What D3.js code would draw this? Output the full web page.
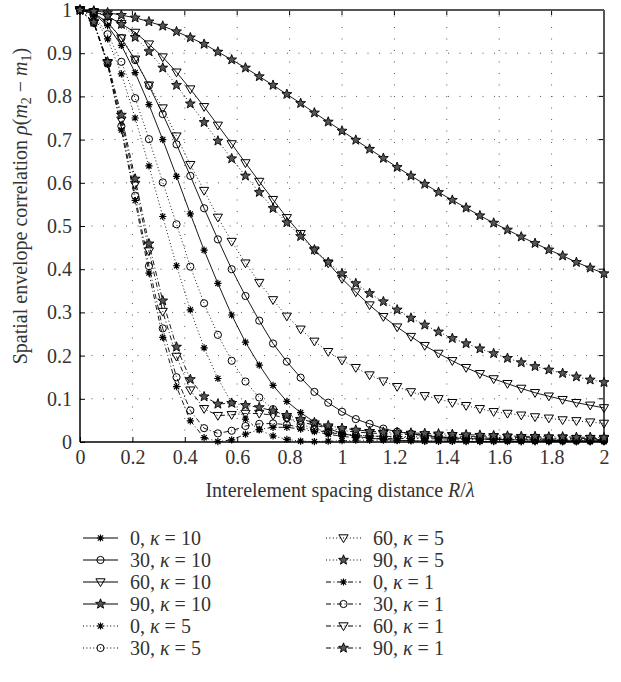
<!DOCTYPE html>
<html><head><meta charset="utf-8">
<script src="https://cdn.jsdelivr.net/npm/d3@7"></script>
<style>
body{margin:0;background:#fff;}
text{font-family:"Liberation Serif","DejaVu Serif",serif;fill:#222;}
</style></head>
<body><svg id="c" width="621" height="682"></svg>
<script>
// sample positions R/lambda
const spacing = [0, 0.0526, 0.1053, 0.1579, 0.2105, 0.2632, 0.3158, 0.3684, 0.4211, 0.4737, 0.5263, 0.5789, 0.6316, 0.6842, 0.7368, 0.7895, 0.8421, 0.8947, 0.9474, 1.0, 1.0526, 1.1053, 1.1579, 1.2105, 1.2632, 1.3158, 1.3684, 1.4211, 1.4737, 1.5263, 1.5789, 1.6316, 1.6842, 1.7368, 1.7895, 1.8421, 1.8947, 1.9474, 2.0];

const xTicks = [0, 0.2, 0.4, 0.6, 0.8, 1, 1.2, 1.4, 1.6, 1.8, 2];
const yTicks = [0, 0.1, 0.2, 0.3, 0.4, 0.5, 0.6, 0.7, 0.8, 0.9, 1];

const s0k10  = [1, 0.991, 0.964, 0.918, 0.855, 0.781, 0.700, 0.615, 0.528, 0.444, 0.367, 0.294, 0.231, 0.178, 0.131, 0.094, 0.068, 0.046, 0.031, 0.020, 0.013, 0.009, 0.006, 0.004, 0.003, 0.002, 0.002, 0.002, 0.001, 0.001, 0.001, 0.001, 0.001, 0.001, 0.001, 0.001, 0.001, 0.001, 0.001];
const s30k10 = [1, 0.993, 0.971, 0.935, 0.884, 0.825, 0.759, 0.689, 0.616, 0.541, 0.469, 0.400, 0.338, 0.281, 0.228, 0.186, 0.149, 0.116, 0.091, 0.070, 0.053, 0.042, 0.031, 0.024, 0.019, 0.015, 0.012, 0.010, 0.008, 0.007, 0.006, 0.005, 0.005, 0.004, 0.004, 0.003, 0.003, 0.003, 0.003];
const s60k10 = [1, 0.996, 0.985, 0.968, 0.948, 0.921, 0.891, 0.856, 0.817, 0.776, 0.733, 0.690, 0.646, 0.603, 0.561, 0.519, 0.482, 0.444, 0.414, 0.378, 0.347, 0.317, 0.290, 0.266, 0.244, 0.223, 0.205, 0.188, 0.172, 0.158, 0.146, 0.135, 0.124, 0.114, 0.106, 0.098, 0.091, 0.085, 0.079];
const s90k10 = [1, 0.998, 0.994, 0.988, 0.982, 0.973, 0.963, 0.950, 0.936, 0.921, 0.903, 0.885, 0.866, 0.846, 0.826, 0.805, 0.784, 0.762, 0.741, 0.720, 0.699, 0.678, 0.657, 0.636, 0.616, 0.597, 0.578, 0.560, 0.542, 0.524, 0.507, 0.491, 0.475, 0.460, 0.445, 0.431, 0.416, 0.403, 0.390];
const s0k5   = [1, 0.984, 0.933, 0.852, 0.750, 0.639, 0.522, 0.408, 0.306, 0.218, 0.147, 0.091, 0.053, 0.028, 0.014, 0.006, 0.002, 0.001, 0.002, 0.003, 0.004, 0.004, 0.004, 0.003, 0.003, 0.002, 0.002, 0.002, 0.002, 0.002, 0.002, 0.002, 0.001, 0.001, 0.001, 0.001, 0.001, 0.001, 0.001];
const s30k5  = [1, 0.987, 0.944, 0.880, 0.796, 0.701, 0.601, 0.504, 0.406, 0.321, 0.248, 0.188, 0.140, 0.103, 0.076, 0.056, 0.041, 0.031, 0.024, 0.019, 0.016, 0.014, 0.012, 0.011, 0.010, 0.009, 0.009, 0.008, 0.008, 0.007, 0.007, 0.006, 0.006, 0.006, 0.005, 0.005, 0.005, 0.005, 0.004];
const s60k5  = [1, 0.993, 0.971, 0.935, 0.886, 0.826, 0.773, 0.708, 0.642, 0.582, 0.520, 0.464, 0.414, 0.369, 0.329, 0.291, 0.261, 0.233, 0.209, 0.189, 0.172, 0.155, 0.141, 0.128, 0.116, 0.107, 0.100, 0.091, 0.084, 0.077, 0.070, 0.066, 0.062, 0.058, 0.055, 0.051, 0.049, 0.046, 0.043];
const s90k5  = [1, 0.997, 0.986, 0.967, 0.937, 0.904, 0.866, 0.826, 0.783, 0.740, 0.697, 0.656, 0.616, 0.578, 0.541, 0.508, 0.476, 0.445, 0.416, 0.390, 0.367, 0.344, 0.325, 0.306, 0.287, 0.271, 0.255, 0.240, 0.228, 0.216, 0.205, 0.194, 0.184, 0.175, 0.167, 0.159, 0.151, 0.144, 0.138];
const s0k1   = [1, 0.970, 0.874, 0.722, 0.559, 0.391, 0.242, 0.128, 0.049, 0.010, 0.001, 0.005, 0.018, 0.029, 0.034, 0.034, 0.030, 0.024, 0.018, 0.013, 0.010, 0.008, 0.008, 0.008, 0.008, 0.008, 0.007, 0.007, 0.006, 0.006, 0.006, 0.005, 0.005, 0.005, 0.004, 0.004, 0.004, 0.004, 0.004];
const s30k1  = [1, 0.970, 0.876, 0.731, 0.570, 0.407, 0.263, 0.150, 0.073, 0.032, 0.020, 0.026, 0.037, 0.042, 0.043, 0.040, 0.034, 0.028, 0.022, 0.018, 0.015, 0.014, 0.013, 0.013, 0.012, 0.012, 0.011, 0.010, 0.010, 0.009, 0.009, 0.008, 0.008, 0.007, 0.007, 0.007, 0.006, 0.006, 0.006];
const s60k1  = [1, 0.971, 0.878, 0.745, 0.596, 0.442, 0.302, 0.198, 0.120, 0.077, 0.061, 0.063, 0.066, 0.066, 0.062, 0.055, 0.047, 0.039, 0.032, 0.027, 0.023, 0.021, 0.019, 0.018, 0.017, 0.016, 0.015, 0.014, 0.013, 0.012, 0.012, 0.011, 0.010, 0.010, 0.009, 0.009, 0.008, 0.008, 0.008];
const s90k1  = [1, 0.972, 0.880, 0.757, 0.609, 0.459, 0.327, 0.220, 0.145, 0.105, 0.088, 0.090, 0.085, 0.080, 0.072, 0.062, 0.053, 0.045, 0.038, 0.032, 0.028, 0.025, 0.023, 0.022, 0.021, 0.020, 0.019, 0.018, 0.017, 0.016, 0.015, 0.014, 0.013, 0.013, 0.012, 0.012, 0.011, 0.011, 0.010];

const angles = ["0", "30", "60", "90"];
const kappas = ["10", "5", "1"];
const markers = ["asterisk", "circle", "triangle", "star"];
const seriesTable = [
  [s0k10, s30k10, s60k10, s90k10],
  [s0k5, s30k5, s60k5, s90k5],
  [s0k1, s30k1, s60k1, s90k1]
];
const dashes = ["none", "1,2.4", "5,2.5,1,2.5"];

const svg = d3.select("#c");
const x = d3.scaleLinear().domain([0, 2]).range([80, 604]);
const y = d3.scaleLinear().domain([0, 1]).range([442, 10]);

// grid
const grid = svg.append("g");
grid.selectAll(".vg").data(xTicks.slice(1, -1)).join("line")
  .attr("x1", d => x(d)).attr("x2", d => x(d)).attr("y1", y(0)).attr("y2", y(1))
  .attr("stroke", "#555").attr("stroke-width", 1).attr("stroke-dasharray", "1,10.5");
grid.selectAll(".hg").data(yTicks.slice(1, -1)).join("line")
  .attr("y1", d => y(d)).attr("y2", d => y(d)).attr("x1", x(0)).attr("x2", x(2))
  .attr("stroke", "#555").attr("stroke-width", 1).attr("stroke-dasharray", "1,10.5");

// axes
const xAxis = d3.axisBottom(x).tickValues(xTicks).tickSize(-5).tickPadding(8).tickFormat(d3.format("~g"));
const yAxis = d3.axisLeft(y).tickValues(yTicks).tickSize(-5).tickPadding(8).tickFormat(d3.format("~g"));
const gx = svg.append("g").attr("transform", `translate(0,${y(0)})`).call(xAxis);
const gy = svg.append("g").attr("transform", `translate(${x(0)},0)`).call(yAxis);
[gx, gy].forEach(g => {
  g.select(".domain").remove();
  g.selectAll("text").style("font-size", "20px").style("fill", "#333");
  g.selectAll("line").attr("stroke", "#000");
});
// top/right ticks
svg.append("g").selectAll("line").data(xTicks).join("line")
  .attr("x1", d => x(d)).attr("x2", d => x(d)).attr("y1", y(1)).attr("y2", y(1) + 5).attr("stroke", "#000");
svg.append("g").selectAll("line").data(yTicks).join("line")
  .attr("y1", d => y(d)).attr("y2", d => y(d)).attr("x1", x(2)).attr("x2", x(2) - 5).attr("stroke", "#000");

// frame
svg.append("line").attr("x1", x(0)).attr("x2", x(2)).attr("y1", y(1)).attr("y2", y(1)).attr("stroke", "#555").attr("stroke-width", 2);
svg.append("line").attr("x1", x(2)).attr("x2", x(2)).attr("y1", y(1)).attr("y2", y(0)).attr("stroke", "#555").attr("stroke-width", 2);
svg.append("line").attr("x1", x(0)).attr("x2", x(2)).attr("y1", y(0)).attr("y2", y(0)).attr("stroke", "#000").attr("stroke-width", 1.5);
svg.append("line").attr("x1", x(0)).attr("x2", x(0)).attr("y1", y(1)).attr("y2", y(0)).attr("stroke", "#000").attr("stroke-width", 1.5);

function drawMarker(g, type, cx, cy) {
  if (type === "circle") {
    g.append("circle").attr("cx", cx).attr("cy", cy).attr("r", 3.6)
      .attr("fill", "none").attr("stroke", "#000").attr("stroke-width", 1);
  } else if (type === "triangle") {
    g.append("path").attr("d", `M${cx - 4.6},${cy - 3.2}L${cx + 4.6},${cy - 3.2}L${cx},${cy + 4.6}Z`)
      .attr("fill", "none").attr("stroke", "#000").attr("stroke-width", 1);
  } else if (type === "star") {
    const pts = [];
    for (let k = 0; k < 10; k++) {
      const r = k % 2 === 0 ? 5.2 : 2.2;
      const a = -Math.PI / 2 + k * Math.PI / 5;
      pts.push([cx + r * Math.cos(a), cy + r * Math.sin(a)]);
    }
    g.append("path").attr("d", "M" + pts.map(p => p.join(",")).join("L") + "Z")
      .attr("fill", "#555").attr("stroke", "#000").attr("stroke-width", 0.9);
  } else {
    const r = 3.6, q = r * 0.72;
    g.append("path").attr("d", `M${cx - r},${cy}L${cx + r},${cy}M${cx},${cy - r}L${cx},${cy + r}M${cx - q},${cy - q}L${cx + q},${cy + q}M${cx - q},${cy + q}L${cx + q},${cy - q}`)
      .attr("stroke", "#000").attr("stroke-width", 1.2).attr("fill", "none");
  }
}

const line = d3.line().x((d, i) => x(spacing[i])).y(d => y(d));
const plot = svg.append("g");
seriesTable.forEach((row, ki) => {
  row.forEach((vals, ai) => {
    plot.append("path").attr("d", line(vals)).attr("fill", "none")
      .attr("stroke", "#000").attr("stroke-width", 0.9)
      .attr("stroke-dasharray", dashes[ki]);
    const mg = plot.append("g");
    vals.forEach((v, i) => drawMarker(mg, markers[ai], x(spacing[i]), y(v)));
  });
});

// axis labels
svg.append("text").attr("x", 340).attr("y", 497).attr("text-anchor", "middle")
  .style("font-size", "20px").style("fill", "#333")
  .html('Interelement spacing distance <tspan font-style="italic">R</tspan>/<tspan font-style="italic">λ</tspan>');
const yl = svg.append("text").attr("transform", "translate(27,206) rotate(-90)").attr("text-anchor", "middle")
  .style("font-size", "20px").style("fill", "#333");
yl.append("tspan").text("Spatial envelope correlation ");
yl.append("tspan").attr("font-style", "italic").text("ρ");
yl.append("tspan").text("(");
yl.append("tspan").attr("font-style", "italic").text("m");
yl.append("tspan").attr("font-size", "14px").attr("dy", 4).text("2");
yl.append("tspan").attr("dy", -4).text(" − ");
yl.append("tspan").attr("font-style", "italic").text("m");
yl.append("tspan").attr("font-size", "14px").attr("dy", 4).text("1");
yl.append("tspan").attr("dy", -4).text(")");

// legend
const leg = svg.append("g");
const legItems = [];
kappas.forEach((k, ki) => angles.forEach((a, ai) => legItems.push({k, a, ki, ai})));
legItems.forEach((it, n) => {
  const col = n < 6 ? 0 : 1;
  const row = n % 6;
  const x0 = col === 0 ? 83 : 326;
  const yy = 538 + row * 22;
  leg.append("line").attr("x1", x0).attr("x2", x0 + 35).attr("y1", yy).attr("y2", yy)
    .attr("stroke", "#000").attr("stroke-width", 1).attr("stroke-dasharray", dashes[it.ki]);
  drawMarker(leg, markers[it.ai], x0 + 17.5, yy);
  const t = leg.append("text").attr("x", x0 + 47).attr("y", yy + 6.5).style("font-size", "20px").style("fill", "#333");
  t.append("tspan").text(it.a + ", ");
  t.append("tspan").attr("font-style", "italic").text("κ");
  t.append("tspan").text(" = " + it.k);
});
</script></body></html>
